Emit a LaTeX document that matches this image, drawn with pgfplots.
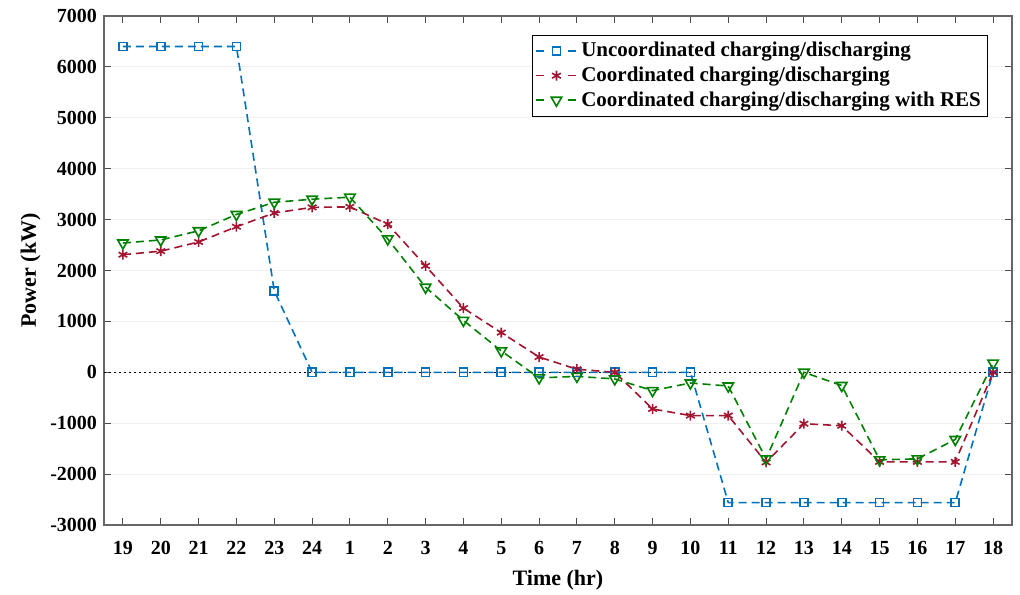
\documentclass[border=0pt]{standalone}
\usepackage{pgfplots}
\pgfplotsset{compat=1.18}
\usepackage{fontspec}
\setmainfont{Liberation Serif}
\definecolor{cblue}{RGB}{0,114,189}
\definecolor{cred}{RGB}{162,20,47}
\definecolor{cgreen}{RGB}{0,128,0}
\begin{document}
\begin{tikzpicture}
\begin{axis}[
  scale only axis,
  width=454pt, height=254.5pt,
  xmin=-0.5, xmax=23.5,
  ymin=-3000, ymax=7000,
  xtick={0,...,23},
  xticklabels={19,20,21,22,23,24,1,2,3,4,5,6,7,8,9,10,11,12,13,14,15,16,17,18},
  ytick={-3000,-2000,...,7000},
  /pgf/number format/assume math mode=true,
  /pgf/number format/1000 sep={},
  tick label style={font=\fontsize{10}{12}\selectfont\bfseries},
  xticklabel style={yshift=-4.5pt},
  tick align=inside,
  major tick length=3.5pt,
  tick style={black!70, line width=0.5pt},
  axis line style={black!60, line width=0.6pt},
  ymajorgrids,
  grid style={gray!12, line width=0.6pt},
  xlabel={Time (hr)},
  ylabel={Power (kW)},
  label style={font=\fontsize{11}{13}\selectfont\bfseries},
  xlabel style={yshift=-1pt},
  ylabel style={yshift=-2pt},
  legend style={at={(0.974,0.963)}, anchor=north east, draw=black, line width=0.5pt,
    font=\fontsize{10.5}{12.5}\selectfont\bfseries, inner sep=1.5pt, row sep=-0.5pt},
  legend cell align=left,
  legend image code/.code={
    \draw[mark repeat=2, mark phase=2, dash pattern=on 4pt off 12pt]
      plot coordinates {(0pt,0pt) (10pt,0pt) (20pt,0pt)};},
  every axis plot/.append style={line width=0.8pt, dash pattern=on 4pt off 2.5pt},
]
\addplot[black, line width=0.5pt, dash pattern=on 1pt off 1.5pt, forget plot] coordinates {(-0.5,0) (23.5,0)};
\addplot[cblue, mark=square, mark size=2pt, mark options={solid}] coordinates {
(0,6400) (1,6400) (2,6400) (3,6400) (4,1600) (5,0) (6,0) (7,0) (8,0) (9,0) (10,0) (11,0) (12,0) (13,0) (14,0) (15,0)
(16,-2560) (17,-2560) (18,-2560) (19,-2560) (20,-2560) (21,-2560) (22,-2560) (23,0)};
\addlegendentry{Uncoordinated charging/discharging}
\addplot[cred, mark=asterisk, mark size=2.5pt, mark options={solid}] coordinates {
(0,2310) (1,2380) (2,2560) (3,2860) (4,3130) (5,3240) (6,3250) (7,2910) (8,2090) (9,1260) (10,780) (11,300)
(12,60) (13,0) (14,-720) (15,-850) (16,-850) (17,-1770) (18,-1010) (19,-1050) (20,-1760) (21,-1760) (22,-1760) (23,0)};
\addlegendentry{Coordinated charging/discharging}
\addplot[cgreen, mark=triangle, mark size=3pt, mark options={solid, rotate=180}] coordinates {
(0,2540) (1,2600) (2,2780) (3,3100) (4,3340) (5,3400) (6,3440) (7,2620) (8,1670) (9,1020) (10,420) (11,-110)
(12,-80) (13,-130) (14,-360) (15,-210) (16,-270) (17,-1700) (18,0) (19,-260) (20,-1720) (21,-1700) (22,-1320) (23,180)};
\addlegendentry{Coordinated charging/discharging with RES}
\end{axis}
\pgfresetboundingbox
\path (current axis.south west) ++(-52pt,-34.5pt) coordinate (bl);
\path (current axis.north east) ++(4pt,8pt) coordinate (tr);
\useasboundingbox (bl) rectangle (tr);
\end{tikzpicture}
\end{document}
